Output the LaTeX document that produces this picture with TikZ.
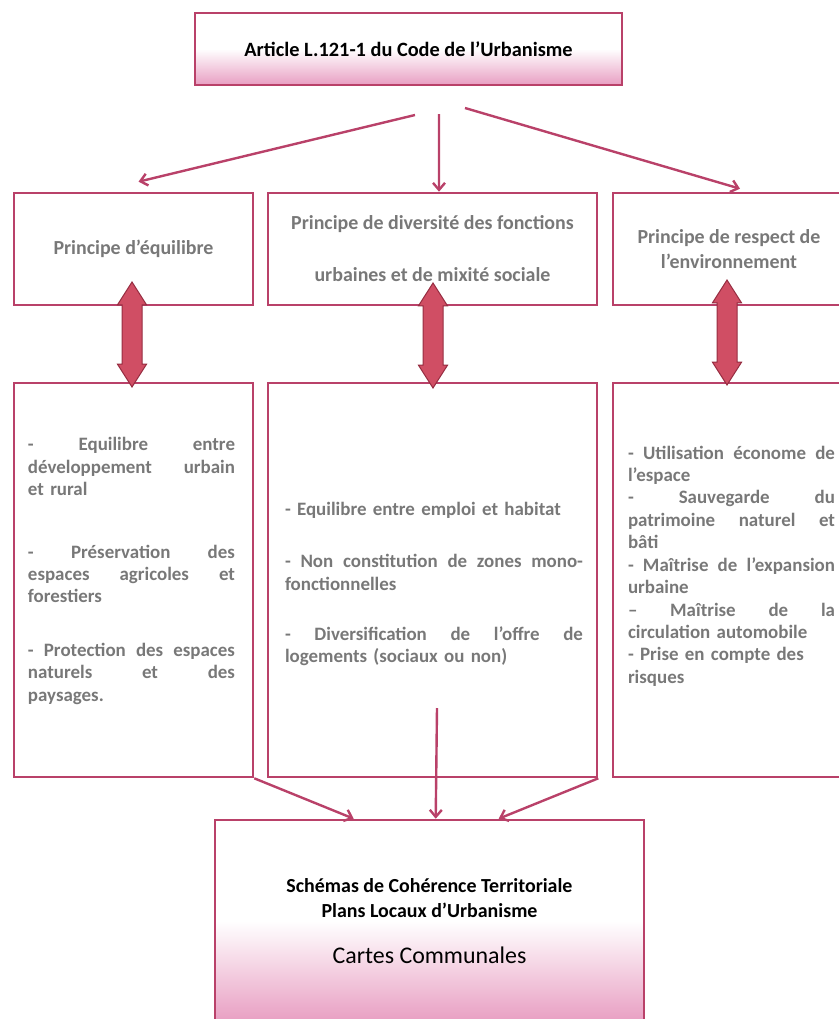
\documentclass[tikz,border=0pt]{standalone}
\usepackage{fontspec}
\setmainfont{Carlito}
\usetikzlibrary{arrows.meta,shapes.arrows}

\definecolor{cadre}{RGB}{185,65,105}
\definecolor{rose}{RGB}{232,158,194}
\definecolor{fleche}{RGB}{208,78,100}
\definecolor{flechebord}{RGB}{150,45,65}
\definecolor{gristexte}{RGB}{120,120,120}

% ligne justifiee a la main : largeur, texte
\newcommand{\jline}[2]{\leavevmode\hbox to #1{\spaceskip=0.25em plus 1fil\xspaceskip=\spaceskip #2}\\}

\tikzset{
  boite/.style={draw=cadre, line width=2.6bp, inner sep=0pt},
  principe/.style={boite, text=gristexte, align=center,
    font=\bfseries\fontsize{20}{25}\selectfont},
  liste/.style={text=gristexte, align=left, inner sep=0pt,
    font=\bfseries\fontsize{19}{22.5}\selectfont},
  lien/.style={draw=cadre, line width=2.4bp,
    -{Straight Barb[length=7bp,width=12bp]}},
  dbl/.style={double arrow, rotate=90, fill=fleche, draw=flechebord,
    line width=1bp, minimum height=105bp, minimum width=0pt,
    inner xsep=0pt, inner ysep=9.5bp,
    double arrow head extend=4.5bp, double arrow tip angle=65}
}

\begin{document}
\begin{tikzpicture}[x=1bp, y=-1bp]
\useasboundingbox (0,0) rectangle (839,1019);

\node[boite, minimum width=427bp, minimum height=72bp,
  top color=white, bottom color=rose, middle color=white,
  font=\bfseries\fontsize{20.4}{24}\selectfont] (art) at (408.5,49)
  {Article L.121-1 du Code de l'Urbanisme};

% les trois principes
\node[principe, minimum width=239bp, minimum height=112bp] (p1) at (133.5,249)
  {Principe d'équilibre};
\node[principe, minimum width=329bp, minimum height=112bp] (p2) at (432.5,249)
  {Principe de diversité des fonctions\\[27bp] urbaines et de mixité sociale};
\node[principe, minimum width=232bp, minimum height=112bp] (p3) at (729,249)
  {Principe de respect de\\ l'environnement};

\node[boite, minimum width=239bp, minimum height=394bp] (d1) at (133.5,580) {};
\node[boite, minimum width=329bp, minimum height=394bp] (d2) at (432.5,580) {};
\node[boite, minimum width=232bp, minimum height=394bp] (d3) at (729,580) {};

\node[liste, text width=207bp] (t1) at (131.5,571) {%
  \jline{207bp}{- Equilibre entre}
  \jline{207bp}{développement urbain}
  et rural\\[40bp]
  \jline{207bp}{- Préservation des}
  \jline{207bp}{espaces agricoles et}
  forestiers\\[31bp]
  \jline{207bp}{- Protection des espaces}
  \jline{207bp}{naturels et des}
  paysages.};
\node[liste, text width=298bp] (t2) at (434,584) {%
  - Equilibre entre emploi et habitat\\[30bp]
  \jline{298bp}{- Non constitution de zones mono-}
  fonctionnelles\\[28bp]
  \jline{298bp}{- Diversification de l'offre de}
  logements (sociaux ou non)};
\node[liste, text width=207bp] (t3) at (731.5,566) {%
  \jline{207bp}{- Utilisation économe de}
  l'espace\\
  \jline{207bp}{- Sauvegarde du}
  \jline{207bp}{patrimoine naturel et}
  bâti\\
  \jline{207bp}{- Maîtrise de l'expansion}
  urbaine\\
  \jline{207bp}{-- Maîtrise de la}
  circulation automobile\\
  - Prise en compte des\\
  risques};

\node[boite, minimum width=429bp, minimum height=202bp,
  top color=white, bottom color=rose, middle color=white,
  align=center, font=\bfseries\fontsize{20}{25}\selectfont] (doc) at (429.5,921)
  {Schémas de Cohérence Territoriale\\ Plans Locaux d'Urbanisme\\[21bp]
   {\mdseries\fontsize{24}{26}\selectfont Cartes Communales}};

% doubles fleches entre principes et contenus
\node[dbl] (f1) at (132,334.5) {};
\node[dbl] (f2) at (433,335.5) {};
\node[dbl] (f3) at (727,332.5) {};

% depart des fleches sous l'article
\coordinate (s1) at (415,115);
\coordinate (s2) at (439,114);
\coordinate (s3) at (465,108);
\coordinate (s4) at (437,708);

\draw[lien] (s1) -- ([xshift=5bp,yshift=10bp]p1.north);
\draw[lien] (s2) -- ([xshift=6.5bp]p2.north);
\draw[lien] (s3) -- ([xshift=11bp,yshift=3bp]p3.north);

\draw[lien] (d1.south east) -- ([xshift=140bp]doc.north west);
\draw[lien] (s4) -- ([xshift=222bp]doc.north west);
\draw[lien] (d2.south east) -- ([xshift=285bp]doc.north west);
\end{tikzpicture}
\end{document}
